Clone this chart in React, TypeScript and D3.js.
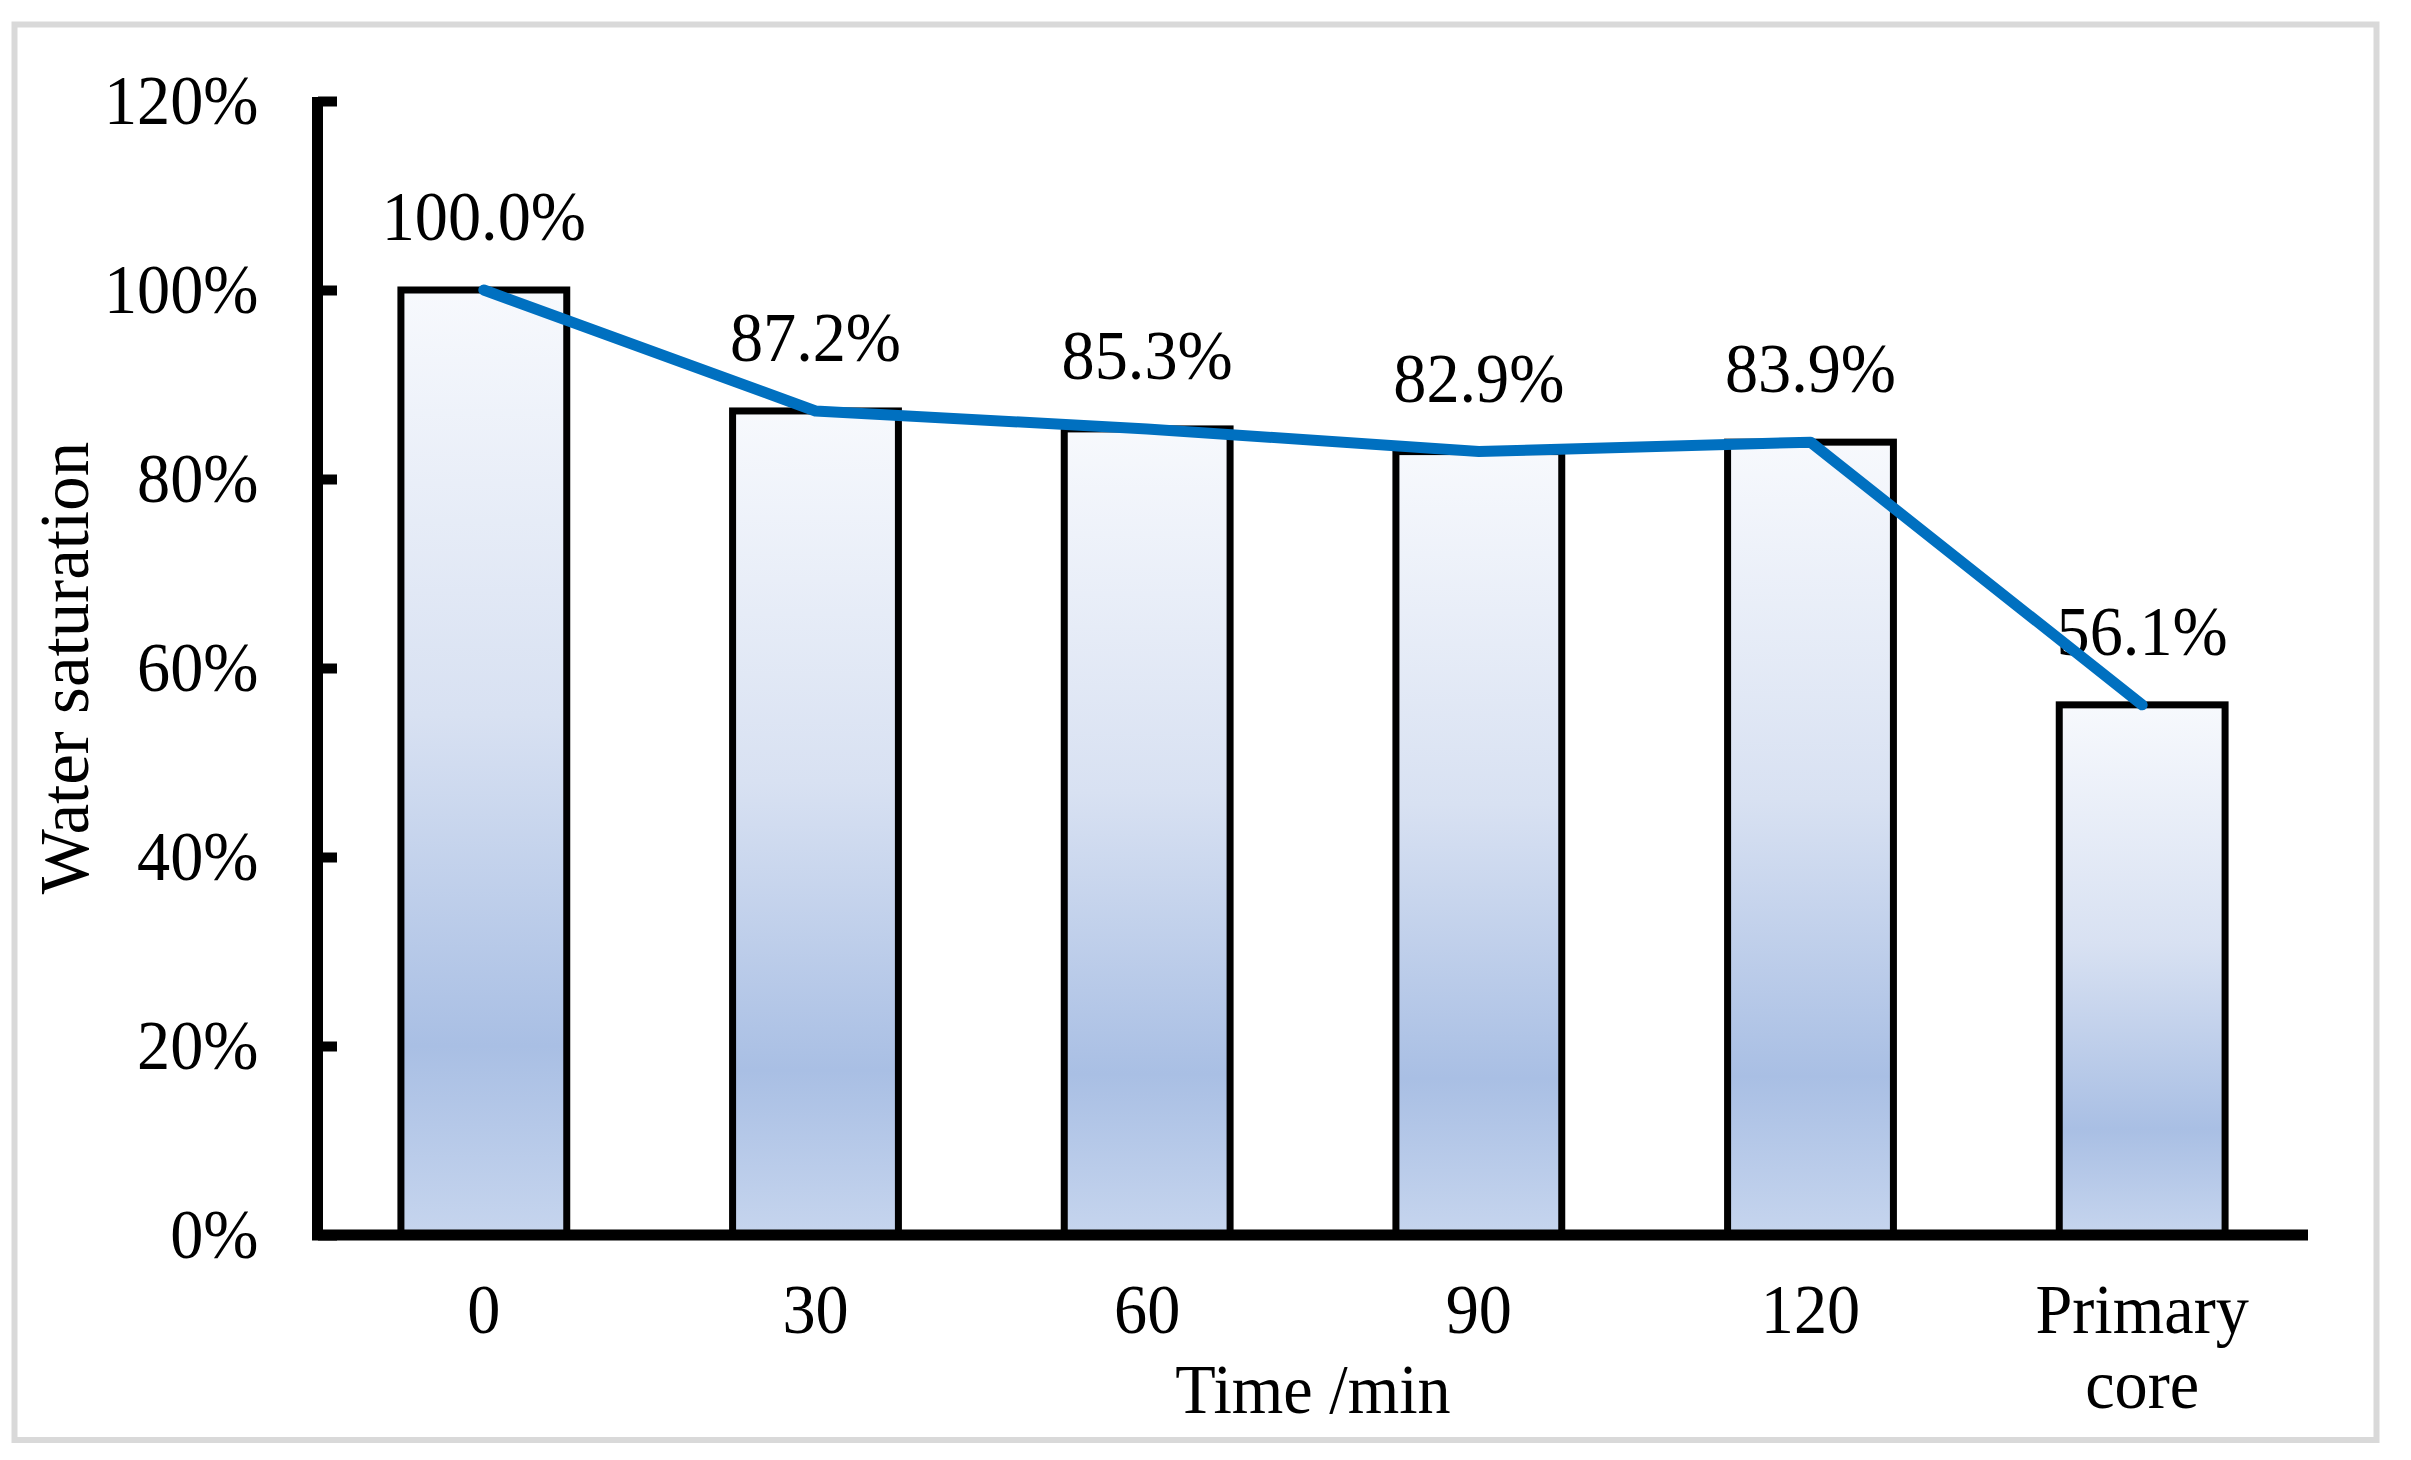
import { useEffect, useRef } from 'react';
import * as d3 from 'd3';

// values
const categories = ['0', '30', '60', '90', '120', 'Primary core'];
const saturation = [1.0, 0.872, 0.853, 0.829, 0.839, 0.561];
const yTicks = [0, 0.2, 0.4, 0.6, 0.8, 1.0, 1.2];
const yLabel = 'Water saturation';
const xLabel = 'Time /min';

const W = 2411;
const H = 1460;
const FONT = '"Times New Roman", "Liberation Serif", serif';
const SX = 0.96; // reference text is slightly condensed

export default function App() {
  const svgRef = useRef<SVGSVGElement>(null);

  useEffect(() => {
    if (!svgRef.current) return;
    const svg = d3.select(svgRef.current);
    svg.selectAll('*').remove();

    const x0 = 318, x1 = 2308;
    const yBottom = 1235, yTop = 101;

    const x = d3.scaleBand<string>()
      .domain(categories)
      .range([x0, x1])
      .paddingInner(0.5)
      .paddingOuter(0.25);

    const y = d3.scaleLinear().domain([0, 1.2]).range([yBottom, yTop]);

    svg.append('rect').attr('width', W).attr('height', H).attr('fill', '#fff');

    // outer frame
    svg.append('rect')
      .attr('x', 14.5).attr('y', 24.5)
      .attr('width', 2362).attr('height', 1415.5)
      .attr('fill', 'none')
      .attr('stroke', '#d9d9d9')
      .attr('stroke-width', 6);

    // bar gradient
    const defs = svg.append('defs');
    const grad = defs.append('linearGradient')
      .attr('id', 'barFill')
      .attr('x1', 0).attr('y1', 0).attr('x2', 0).attr('y2', 1);
    grad.append('stop').attr('offset', '0').attr('stop-color', '#f7f9fd');
    grad.append('stop').attr('offset', '0.45').attr('stop-color', '#d8e1f2');
    grad.append('stop').attr('offset', '0.8').attr('stop-color', '#a9bfe4');
    grad.append('stop').attr('offset', '1').attr('stop-color', '#c6d5ee');

    // bars
    svg.append('g')
      .selectAll('rect')
      .data(saturation)
      .join('rect')
      .attr('x', (_, i) => x(categories[i])!)
      .attr('y', d => y(d))
      .attr('width', x.bandwidth())
      .attr('height', d => yBottom - y(d))
      .attr('fill', 'url(#barFill)')
      .attr('stroke', '#000')
      .attr('stroke-width', 7);

    // y axis ticks + labels
    const yAxis = d3.axisLeft(y)
      .tickValues(yTicks)
      .tickSizeInner(-19)
      .tickSizeOuter(0)
      .tickPadding(62)
      .tickFormat(d => `${Math.round(+d * 100)}%`);

    const gy = svg.append('g')
      .attr('transform', `translate(${x0},0)`)
      .call(yAxis);
    gy.select('.domain').remove();
    gy.selectAll('.tick line')
      .attr('stroke', '#000')
      .attr('stroke-width', 10);
    gy.selectAll('.tick text')
      .attr('font-family', FONT)
      .attr('font-size', 69)
      .attr('fill', '#000')
      .attr('dy', '0.33em')
      .attr('transform', `scale(${SX},1)`);

    // axis lines
    svg.append('line')
      .attr('x1', 317.5).attr('x2', 317.5)
      .attr('y1', 97).attr('y2', 1240)
      .attr('stroke', '#000').attr('stroke-width', 11);
    svg.append('line')
      .attr('x1', 312).attr('x2', x1)
      .attr('y1', yBottom).attr('y2', yBottom)
      .attr('stroke', '#000').attr('stroke-width', 11);

    // category labels (wrapped)
    const gx = svg.append('g');
    categories.forEach(c => {
      const cx = x(c)! + x.bandwidth() / 2;
      const words = c.split(' ');
      words.forEach((w, j) => {
        gx.append('text')
          .attr('transform', `translate(${cx},${1333 + j * 75}) scale(${SX},1)`)
          .attr('text-anchor', 'middle')
          .attr('font-family', FONT)
          .attr('font-size', 69)
          .text(w);
      });
    });

    // axis titles
    svg.append('text')
      .attr('transform', `translate(${(x0 + x1) / 2},1413) scale(${SX},1)`)
      .attr('text-anchor', 'middle')
      .attr('font-family', FONT)
      .attr('font-size', 69)
      .text(xLabel);

    svg.append('text')
      .attr('transform', `translate(88,${(yTop + yBottom) / 2}) rotate(-90)`)
      .attr('text-anchor', 'middle')
      .attr('font-family', FONT)
      .attr('font-size', 69)
      .text(yLabel);

    // value labels
    svg.append('g')
      .selectAll('text')
      .data(saturation)
      .join('text')
      .attr('transform', (d, i) =>
        `translate(${x(categories[i])! + x.bandwidth() / 2},${y(d) - 50}) scale(${SX},1)`)
      .attr('text-anchor', 'middle')
      .attr('font-family', FONT)
      .attr('font-size', 69)
      .text(d => `${(d * 100).toFixed(1)}%`);

    // line
    const line = d3.line<number>()
      .x((_, i) => x(categories[i])! + x.bandwidth() / 2)
      .y(d => y(d));

    svg.append('path')
      .datum(saturation)
      .attr('d', line)
      .attr('fill', 'none')
      .attr('stroke', '#0070c0')
      .attr('stroke-width', 11)
      .attr('stroke-linejoin', 'round')
      .attr('stroke-linecap', 'round');
  }, []);

  return (
    <div style={{ position: 'absolute', left: 0, top: 0 }}>
      <svg ref={svgRef} width={W} height={H} style={{ display: 'block' }} />
    </div>
  );
}
